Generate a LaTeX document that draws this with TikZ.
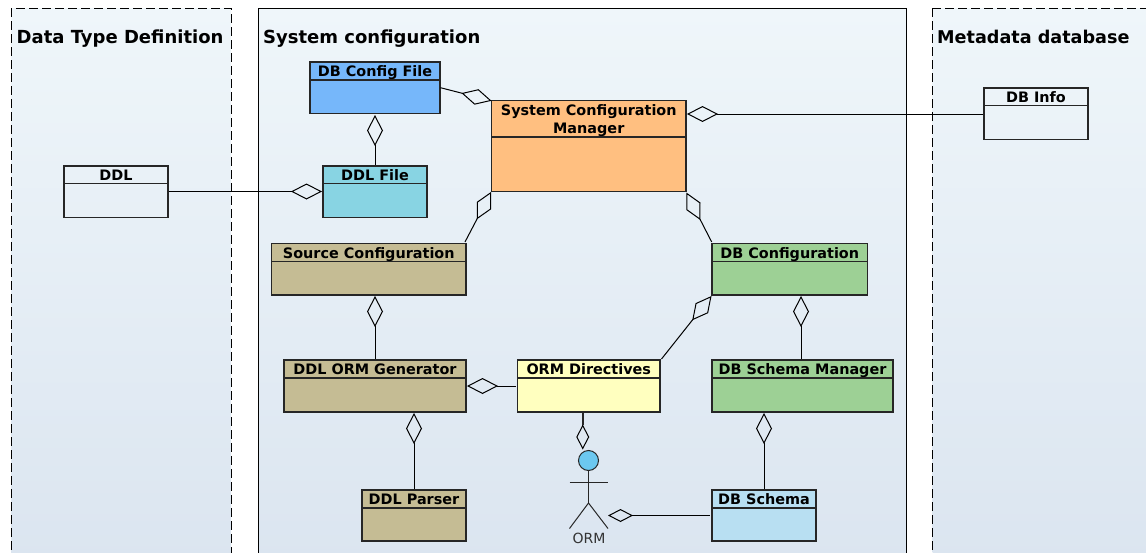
\documentclass[tikz,border=0pt]{standalone}
\usepackage{fontspec}
\setmainfont{DejaVu Sans}
\usetikzlibrary{arrows.meta}
\definecolor{panelTop}{HTML}{EFF6FA}
\definecolor{panelBot}{HTML}{DBE5F0}
\definecolor{cBlue}{HTML}{76B7FA}
\definecolor{cCyan}{HTML}{88D4E3}
\definecolor{cOrange}{HTML}{FFBF80}
\definecolor{cTan}{HTML}{C5BC94}
\definecolor{cGreen}{HTML}{9DD095}
\definecolor{cYellow}{HTML}{FFFFBF}
\definecolor{cSky}{HTML}{B8DFF2}
\definecolor{cHead}{HTML}{6CC8F0}
\tikzset{
  panelbox/.style={top color=panelTop,bottom color=panelBot,draw=black,line width=1pt},
  dashedpanel/.style={panelbox,dash pattern=on 9pt off 4pt,line width=1pt},
  paneltitle/.style={anchor=base west,inner sep=0pt,font=\fontsize{18}{20}\selectfont\bfseries},
  boxtitle/.style={anchor=base,inner sep=0pt,align=center,font=\fontsize{14.4}{18}\selectfont\bfseries},
  umlbody/.style={draw=black!85,line width=1.1pt,anchor=north west,inner sep=0pt,outer sep=0pt},
  headline/.style={draw=black!85,line width=1.1pt},
  agg/.style={draw=black,line width=1pt,{Diamond[open,length=31pt,width=16pt]}-},
  aggsmall/.style={draw=black,line width=1pt,{Diamond[open,length=25pt,width=13pt]}-},
  actorline/.style={draw=black!85,line width=1pt},
}
% name, x0, y0, x1, y1, header y, fill, text y, title
\newcommand{\umlbox}[9]{%
  \node[umlbody,fill=#7,minimum width=#4pt-#2pt,minimum height=#5pt-#3pt] (#1) at (#2,#3) {};
  \coordinate (#1-hl) at (#2,#6);
  \coordinate (#1-hr) at (#4,#6);
  \draw[headline] (#1-hl) -- (#1-hr);
  \node[boxtitle] (#1-title) at ({(#2+#4)/2},#8) {#9};
}
\begin{document}
\begin{tikzpicture}[x=1pt,y=-1pt]
\useasboundingbox (0,0) rectangle (1146,552);
\clip (0,0) rectangle (1146,552);
\path[dashedpanel] (11.2,8) rectangle (231,562);
\path[panelbox] (258.5,8) rectangle (906,562);
\path[dashedpanel] (932.5,8) rectangle (1156,562);
\node[paneltitle] (t1) at (16.5,43.5) {Data Type Definition};
\node[paneltitle] (t2) at (263,43.5) {System configuration};
\node[paneltitle,font=\fontsize{17.6}{20}\selectfont\bfseries] (t3) at (937,43.5) {Metadata database};

\umlbox{cfg}{310}{62}{440}{113.5}{80}{cBlue}{76}{DB Config File}
\umlbox{ddlf}{323}{166}{427}{217.5}{183.5}{cCyan}{180}{DDL File}
\umlbox{scm}{491.5}{100.5}{686}{191.5}{137}{cOrange}{115}{System Configuration}
\node[boxtitle] (scm-title2) at (588.75,133) {Manager};
\node[umlbody,minimum width=104pt,minimum height=51.5pt] (ddl) at (64,166) {};
\coordinate (ddl-hl) at (64,183.5); \coordinate (ddl-hr) at (168,183.5);
\draw[headline] (ddl-hl) -- (ddl-hr);
\node[boxtitle] (ddl-title) at (116,180) {DDL};
\node[umlbody,minimum width=104pt,minimum height=51.5pt] (info) at (984,88) {};
\coordinate (info-hl) at (984,105.5); \coordinate (info-hr) at (1088,105.5);
\draw[headline] (info-hl) -- (info-hr);
\node[boxtitle] (info-title) at (1036,102) {DB Info};
\umlbox{src}{271.5}{243.5}{466}{295}{261.5}{cTan}{258}{Source Configuration}
\umlbox{dbc}{712}{243.5}{867.5}{295}{261.5}{cGreen}{258}{DB Configuration}
\umlbox{gen}{284}{360}{466}{412}{378}{cTan}{374}{DDL ORM Generator}
\umlbox{dir}{517.5}{360}{660}{412}{378}{cYellow}{374}{ORM Directives}
\umlbox{mgr}{712}{360}{893}{412}{378}{cGreen}{374}{DB Schema Manager}
\umlbox{par}{362}{490}{466}{541}{508}{cTan}{504}{DDL Parser}
\umlbox{sch}{712}{490}{816}{541}{508}{cSky}{504}{DB Schema}

% actor
\node[circle,draw=black!85,line width=1pt,fill=cHead,minimum size=20pt,inner sep=0pt,outer sep=0pt] (head) at (588.5,460.5) {};
\coordinate (hip) at (588.5,503);
\coordinate (armL) at (569.5,482);
\coordinate (armR) at (608,482);
\coordinate (legL) at (569.5,528.5);
\coordinate (legR) at (608,528.5);
\draw[actorline] (head.south) -- (hip);
\draw[actorline] (armL) -- (armR);
\draw[actorline] (legL) -- (hip) -- (legR);
\node[inner sep=0pt,anchor=base,text=black!80,font=\fontsize{14}{16}\selectfont] (orm) at (589,543) {ORM};

% connectors
\draw[agg] ([shift={(0,0.3)}]scm.north west) -- ([shift={(0.5,-25.8)}]cfg.south east);
\draw[agg] ([shift={(0,1.5)}]cfg.south) -- ([shift={(0,-1)}]ddlf.north);
\draw[agg] ([shift={(-1,25.5)}]ddlf.north west) -- ([shift={(1,8)}]ddl-hr);
\draw[agg] ([shift={(-0.3,0.3)}]scm.south west) -- ([shift={(-1,-1.5)}]src.north east);
\draw[agg] ([shift={(0.3,1)}]scm.south east) -- ([shift={(-0.3,-1.5)}]dbc.north west);
\draw[agg] ([shift={(-0.5,1)}]dbc.south west) -- ([shift={(1.5,-1)}]dir.north east);
\draw[agg] ([shift={(6.25,1)}]src.south) -- ([shift={(0,-1)}]gen.north);
\draw[agg] ([shift={(11.25,1)}]dbc.south) -- ([shift={(-1.5,-1)}]mgr.north);
\draw[agg] ([shift={(1,26)}]gen.north east) -- ([shift={(-1.5,26)}]dir.north west);
\draw[agg] ([shift={(0,1)}]gen.south -| par.north) -- ([shift={(0,-1)}]par.north);
\draw[agg] ([shift={(0,1)}]mgr.south -| sch.north) -- ([shift={(0,-1)}]sch.north);
\draw[agg] ([shift={(1,13.5)}]scm.north east) -- ([shift={(-1,26)}]info.north west);
\draw[aggsmall] ([shift={(-6,-1)}]head.north -| dir.south) -- ([shift={(-6,1)}]dir.south);
\draw[line width=1.5pt,black!85] ([shift={(-6,0)}]dir.south) -- ([shift={(-6,13)}]dir.south);
\draw[aggsmall] ([shift={(0,-13)}]legR) -- ([shift={(-2,25.5)}]sch.north west);
\end{tikzpicture}
\end{document}
